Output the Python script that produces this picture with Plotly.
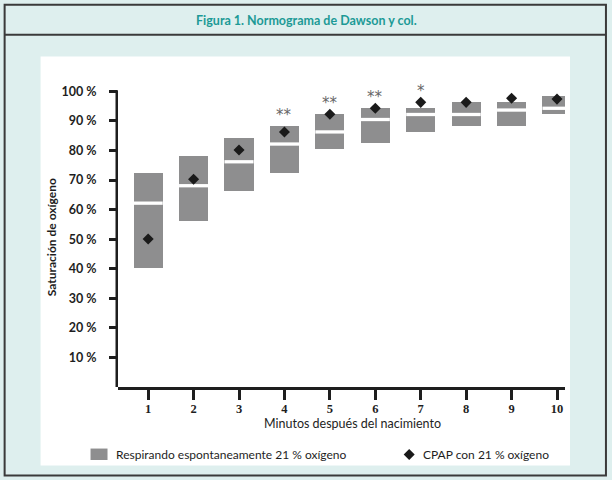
import plotly.graph_objects as go

# ---- data ----
minutes = [1, 2, 3, 4, 5, 6, 7, 8, 9, 10]
box_low = [40.3, 56.3, 66.4, 72.5, 80.4, 82.4, 86.3, 88.3, 88.3, 92.3]
box_high = [72.4, 78.2, 84.3, 88.3, 92.2, 94.3, 94.4, 96.3, 96.3, 98.4]
box_median = [62.2, 68.1, 76.2, 82.2, 86.3, 90.5, 92.2, 92.2, 93.7, 94.3]
cpap = [50.1, 70.3, 80.2, 86.3, 92.3, 94.3, 96.3, 96.3, 97.7, 97.4]
sig_minutes = [4, 5, 6, 7]
sig_marks = ["**", "**", "**", "*"]
sig_y = [92.0, 96.2, 98.2, 100.2]
y_ticks = [10, 20, 30, 40, 50, 60, 70, 80, 90, 100]
y_ticktext = [f"{v} %" for v in y_ticks]

title_text = "Figura 1. Normograma de Dawson y col."
x_title = "Minutos después del nacimiento"
y_title = "Saturación de oxígeno"
legend_bar = "Respirando espontaneamente 21 % oxígeno"
legend_dia = "CPAP con 21 % oxígeno"

# ---- layout geometry (pixels) ----
FW, FH = 612, 480
Y_MAX = 101.5
L, R, B = 117.5, 47, 92.7
T = 91 - (Y_MAX - 100) * 2.963
PW, PH = FW - L - R, FH - T - B


def px(x):
    return (x - L) / PW


def py(y):
    return 1 - (y - T) / PH


TEAL = "#deefee"
BORDER = "#3a3a3a"
GRAY = "#8e8e8f"
AX = "#1e1e1e"
BOXW = 0.64

fig = go.Figure()

fig.add_trace(go.Bar(
    x=minutes,
    y=[h - l for h, l in zip(box_high, box_low)],
    base=box_low,
    width=BOXW,
    marker=dict(color=GRAY, line=dict(width=0)),
    showlegend=False,
    hoverinfo="skip",
))

mx, my = [], []
for m, md in zip(minutes, box_median):
    mx += [m - BOXW / 2, m + BOXW / 2, None]
    my += [md, md, None]
fig.add_trace(go.Scatter(
    x=mx, y=my, mode="lines",
    line=dict(color="white", width=3.3),
    showlegend=False, hoverinfo="skip",
))

fig.add_trace(go.Scatter(
    x=minutes, y=cpap, mode="markers",
    marker=dict(symbol="diamond", size=8.5, color="#1a1a1a"),
    cliponaxis=False, showlegend=False,
))

shapes = [
    # outer frame
    dict(type="rect", xref="paper", yref="paper",
         x0=px(4), x1=px(606), y0=py(4), y1=py(476),
         line=dict(color=BORDER, width=2), fillcolor=TEAL, layer="below"),
    # title separator
    dict(type="line", xref="paper", yref="paper",
         x0=px(4), x1=px(606), y0=py(34.3), y1=py(34.3),
         line=dict(color=BORDER, width=2), layer="below"),
    # white panel
    dict(type="rect", xref="paper", yref="paper",
         x0=px(40), x1=px(570), y0=py(56), y1=py(466),
         line=dict(width=0), fillcolor="white", layer="below"),
    # y axis line, from 0 to the 100 % tick
    dict(type="line", xref="paper", yref="y",
         x0=px(L - 1.25), x1=px(L - 1.25), y0=-0.9, y1=100.42,
         line=dict(color=AX, width=2.5)),
    # legend swatch
    dict(type="rect", xref="paper", yref="paper",
         x0=px(90), x1=px(107), y0=py(449), y1=py(460.5),
         line=dict(width=0), fillcolor=GRAY),
    # legend diamond
    dict(type="path", xref="paper", yref="paper",
         path=f"M {px(403.5)} {py(455)} L {px(409)} {py(449.5)} L {px(414.5)} {py(455)} L {px(409)} {py(460.5)} Z",
         line=dict(width=0), fillcolor="#1a1a1a"),
]

ann = [
    dict(text=title_text, x=px(306), y=py(19.5), xref="paper", yref="paper",
         showarrow=False, xanchor="center", yanchor="middle",
         font=dict(family="Lato", size=12.5, color="#1c9a96", weight="bold")),
    dict(text=y_title, x=px(50.5), y=py(237), xref="paper", yref="paper",
         showarrow=False, xanchor="center", yanchor="middle", textangle=-90,
         font=dict(family="Lato", size=12, color=AX, weight="bold")),
    dict(text=x_title, x=px(352), y=py(424), xref="paper", yref="paper",
         showarrow=False, xanchor="center", yanchor="middle",
         font=dict(family="Lato", size=12.5, color=AX)),
    dict(text=legend_bar, x=px(113), y=py(454.5), xref="paper", yref="paper",
         showarrow=False, xanchor="left", yanchor="middle",
         font=dict(family="Lato", size=12, color=AX)),
    dict(text=legend_dia, x=px(420.5), y=py(454.5), xref="paper", yref="paper",
         showarrow=False, xanchor="left", yanchor="middle",
         font=dict(family="Lato", size=12, color=AX)),
]
# significance marks, placed in data coordinates
for m, s, yv in zip(sig_minutes, sig_marks, sig_y):
    ann.append(dict(text=s, x=m, y=yv, xref="x", yref="y", showarrow=False,
                    xanchor="center", yanchor="middle",
                    font=dict(family="DejaVu Sans", size=15, color="#666666")))

fig.update_layout(
    width=FW, height=FH,
    margin=dict(l=L, r=R, t=T, b=B, pad=0),
    paper_bgcolor=TEAL, plot_bgcolor="white",
    shapes=shapes, annotations=ann,
    showlegend=False, bargap=0,
    xaxis=dict(
        range=[0.336, 10.176], tickvals=minutes, ticktext=[str(m) for m in minutes],
        showgrid=False, zeroline=False, showline=True, linecolor=AX, linewidth=2.5,
        ticks="outside", ticklen=10, tickwidth=3, tickcolor=AX,
        tickfont=dict(family="Liberation Serif", size=12.5, color=AX, weight="bold"),
        ticklabelstandoff=-2,
        fixedrange=True,
    ),
    yaxis=dict(
        range=[0, Y_MAX], tickvals=y_ticks, ticktext=y_ticktext,
        showgrid=False, zeroline=False, showline=False,
        ticks="outside", ticklen=8, tickwidth=2.5, tickcolor=AX,
        tickfont=dict(family="Lato", size=12.5, color=AX, weight="bold"),
        ticklabelstandoff=10,
        fixedrange=True,
    ),
)

fig.write_html("out.html", config=dict(displayModeBar=False),
               post_script="document.body.style.margin='0';")
